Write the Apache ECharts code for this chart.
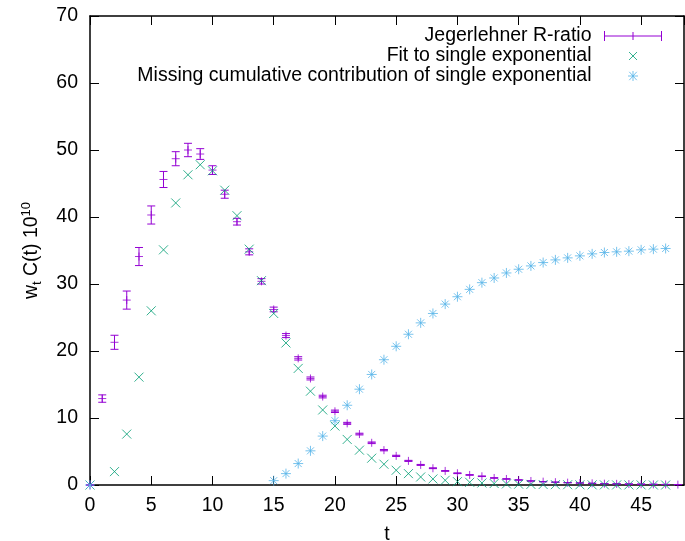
<!DOCTYPE html>
<html>
<head>
<meta charset="utf-8">
<script src="https://cdn.jsdelivr.net/npm/echarts@6/dist/echarts.min.js"></script>
<style>
  html, body { margin: 0; padding: 0; background: #fff; overflow: hidden; }
  #chart { width: 685px; height: 541px; }
</style>
</head>
<body>
<div id="chart"></div>
<script>
// Jegerlehner R-ratio (t, value, error)
const rT = [0, 1, 2, 3, 4, 5, 6, 7, 8, 9, 10, 11, 12, 13, 14, 15, 16, 17, 18, 19, 20, 21, 22, 23, 24,
  25, 26, 27, 28, 29, 30, 31, 32, 33, 34, 35, 36, 37, 38, 39, 40, 41, 42, 43, 44, 45, 46, 47, 48];
const rVal = [0, 12.9, 21.3, 27.6, 34.1, 40.3, 45.6, 48.7, 50.0, 49.4, 47.0, 43.4, 39.3, 34.8, 30.4,
  26.2, 22.3, 18.9, 15.9, 13.2, 11.0, 9.2, 7.6, 6.3, 5.2, 4.35, 3.6, 3.0, 2.5, 2.1, 1.75, 1.5, 1.3,
  1.05, 0.9, 0.75, 0.6, 0.5, 0.42, 0.35, 0.3, 0.25, 0.2, 0.17, 0.14, 0.12, 0.1, 0.08, 0.06];
const rErr = [0, 0.55, 1.05, 1.35, 1.35, 1.35, 1.2, 1.05, 1.0, 0.8, 0.65, 0.6, 0.5, 0.45, 0.4,
  0.35, 0.3, 0.25, 0.22, 0.2, 0.18, 0.15, 0.13, 0.12, 0.1, 0.09, 0.08, 0.07, 0.06, 0.05, 0.05, 0.04,
  0.04, 0.03, 0.03, 0.03, 0.02, 0.02, 0.02, 0.02, 0.01, 0.01, 0.01, 0.01, 0.01, 0.01, 0.01, 0.01, 0.01];

// Fit to single exponential
const fitT = [0, 2, 3, 4, 5, 6, 7, 8, 9, 10, 11, 12, 13, 14, 15, 16, 17, 18, 19, 20, 21, 22, 23, 24,
  25, 26, 27, 28, 29, 30, 31, 32, 33, 34, 35, 36, 37, 38, 39, 40, 41, 42, 43, 44, 45, 46, 47];
const fitVal = [0, 2.0, 7.6, 16.1, 26.0, 35.1, 42.1, 46.3, 47.8, 46.9, 44.0, 40.2, 35.2, 30.5, 25.6,
  21.2, 17.4, 14.0, 11.2, 8.8, 6.8, 5.2, 4.0, 3.1, 2.2, 1.7, 1.2, 0.9, 0.7, 0.5, 0.4, 0.3, 0.22,
  0.16, 0.12, 0.09, 0.07, 0.05, 0.04, 0.03, 0.02, 0.02, 0.01, 0.01, 0.01, 0.0, 0.0];

// Missing cumulative contribution of single exponential
const missT = [0, 15, 16, 17, 18, 19, 20, 21, 22, 23, 24, 25, 26, 27, 28, 29, 30, 31, 32, 33, 34, 35,
  36, 37, 38, 39, 40, 41, 42, 43, 44, 45, 46, 47];
const missVal = [0, 0.65, 1.7, 3.2, 5.1, 7.3, 9.6, 11.9, 14.3, 16.5, 18.7, 20.7, 22.5, 24.2, 25.6,
  27.0, 28.1, 29.2, 30.2, 30.9, 31.65, 32.2, 32.7, 33.2, 33.6, 33.9, 34.2, 34.5, 34.7, 34.8, 34.9,
  35.1, 35.2, 35.3];

const xTicks = [0, 5, 10, 15, 20, 25, 30, 35, 40, 45];
const yTicks = [0, 10, 20, 30, 40, 50, 60, 70];

const names = ['Jegerlehner R-ratio', 'Fit to single exponential',
  'Missing cumulative contribution of single exponential'];
const colors = ['#9400d3', '#009e73', '#56b4e9'];
const FONT = 'Liberation Sans';
const FS = 19.5;

const plusPath = 'path://M5,0L5,10M0,5L10,5';
const crossPath = 'path://M0,0L10,10M10,0L0,10';
const starPath = 'path://M5,0L5,10M0,5L10,5M1.5,1.5L8.5,8.5M8.5,1.5L1.5,8.5';

const chart = echarts.init(document.getElementById('chart'), null, { renderer: 'canvas' });

// frame: every side gets a line and inward ticks, like the gnuplot border
const frameAxis = {
  type: 'value',
  axisLine: { show: true, onZero: false, lineStyle: { color: '#000', width: 1.5 } },
  axisTick: { show: true, inside: true, length: 9, lineStyle: { color: '#000', width: 1 } },
  splitLine: { show: false }
};

const xCommon = Object.assign({}, frameAxis, { min: 0, max: 48.5, interval: 5 });
const yCommon = Object.assign({}, frameAxis, { min: 0, max: 70, interval: 10 });

chart.setOption({
  animation: false,
  backgroundColor: '#fff',
  textStyle: { fontFamily: FONT },
  grid: { left: 90, right: 1, top: 16, bottom: 56, containLabel: false, outerBoundsMode: 'none' },
  legend: {
    orient: 'vertical',
    align: 'right',
    right: 16,
    top: 21,
    itemWidth: 57,
    itemHeight: 10,
    itemGap: 0,
    selectedMode: false,
    textStyle: { fontFamily: FONT, fontSize: FS, color: '#000', lineHeight: 19, padding: [0, 8, 0, 0] },
    data: [
      { name: names[0], icon: 'path://M0,5L57,5M0,0L0,10M57,0L57,10M28.5,1L28.5,9',
        itemStyle: { color: 'none', borderColor: colors[0], borderWidth: 1 } },
      { name: names[1], icon: 'path://M0,0M57,10M24.5,1L32.5,9M32.5,1L24.5,9',
        itemStyle: { color: 'none', borderColor: colors[1], borderWidth: 1 } },
      { name: names[2], icon: 'path://M0,0M57,10M24,0L33,10M33,0L24,10M28.5,-1L28.5,11M22.5,5L34.5,5',
        itemStyle: { color: 'none', borderColor: colors[2], borderWidth: 1 } }
    ]
  },
  xAxis: [
    Object.assign({}, xCommon, {
      position: 'bottom',
      name: 't',
      nameLocation: 'middle',
      nameGap: 40,
      nameTextStyle: { fontFamily: FONT, fontSize: FS, color: '#000' },
      axisLabel: {
        fontFamily: FONT, fontSize: FS, color: '#000', margin: 11,
        showMaxLabel: false,
        formatter: v => (xTicks.indexOf(v) >= 0 ? String(v) : '')
      }
    }),
    Object.assign({}, xCommon, { position: 'top', axisLabel: { show: false } })
  ],
  yAxis: [
    Object.assign({}, yCommon, {
      position: 'left',
      name: '{a|w}{s|t}{a| C(t) 10}{p|10}',
      nameLocation: 'middle',
      nameGap: 46,
      nameRotate: 90,
      nameTextStyle: {
        color: '#000',
        rich: {
          a: { fontFamily: FONT, fontSize: FS, lineHeight: 24, color: '#000' },
          s: { fontFamily: FONT, fontSize: 13, lineHeight: 13, verticalAlign: 'bottom', color: '#000' },
          p: { fontFamily: FONT, fontSize: 13, lineHeight: 13, verticalAlign: 'top', color: '#000' }
        }
      },
      axisLabel: {
        fontFamily: FONT, fontSize: FS, color: '#000', margin: 12,
        formatter: v => (yTicks.indexOf(v) >= 0 ? String(v) : '')
      }
    }),
    Object.assign({}, yCommon, { position: 'right', axisLabel: { show: false } })
  ],
  series: [
    {
      name: names[0],
      type: 'custom',
      silent: true,
      data: rT.map((t, i) => [t, rVal[i] - rErr[i], rVal[i] + rErr[i]]),
      encode: { x: 0, y: [1, 2] },
      renderItem: function (params, api) {
        const t = api.value(0);
        const top = api.coord([t, api.value(2)]);
        const bot = api.coord([t, api.value(1)]);
        const w = 4;
        const st = { stroke: colors[0], lineWidth: 1 };
        return {
          type: 'group',
          children: [
            { type: 'line', shape: { x1: top[0], y1: top[1], x2: bot[0], y2: bot[1] }, style: st },
            { type: 'line', shape: { x1: top[0] - w, y1: top[1], x2: top[0] + w, y2: top[1] }, style: st },
            { type: 'line', shape: { x1: bot[0] - w, y1: bot[1], x2: bot[0] + w, y2: bot[1] }, style: st }
          ]
        };
      }
    },
    {
      name: names[0],
      type: 'scatter',
      symbol: plusPath,
      symbolSize: 8,
      silent: true,
      itemStyle: { color: 'none', borderColor: colors[0], borderWidth: 1 },
      data: rT.map((t, i) => [t, rVal[i]])
    },
    {
      name: names[1],
      type: 'scatter',
      symbol: crossPath,
      symbolSize: 9,
      silent: true,
      itemStyle: { color: 'none', borderColor: colors[1], borderWidth: 1 },
      data: fitT.map((t, i) => [t, fitVal[i]])
    },
    {
      name: names[2],
      type: 'scatter',
      symbol: starPath,
      symbolSize: 10,
      silent: true,
      itemStyle: { color: 'none', borderColor: colors[2], borderWidth: 1 },
      data: missT.map((t, i) => [t, missVal[i]])
    }
  ]
});
</script>
</body>
</html>
